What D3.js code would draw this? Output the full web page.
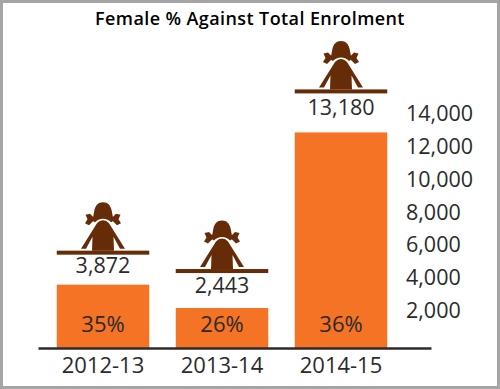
<!DOCTYPE html>
<html><head><meta charset="utf-8">
<script src="https://cdn.jsdelivr.net/npm/d3@7/dist/d3.min.js"></script>
<style>html,body{margin:0;padding:0;background:#fff}svg{display:block}text{font-family:"Open Sans",sans-serif;fill:#2b2b2b}</style>
</head><body><svg id="c" width="500" height="389"></svg>
<script>
const categories = ["2012-13","2013-14","2014-15"];
const enrolment = [3872,2443,13180];
const femalePct = ["35%","26%","36%"];
const tickValues = [2000,4000,6000,8000,10000,12000,14000];
const titleText = "Female % Against Total Enrolment";

const W=500,H=389,base=348;
const svg=d3.select("#c");
const fmt=d3.format(",");
const x=d3.scaleBand().domain(categories).range([38,431]).paddingInner(0.2227).paddingOuter(0.2626).align(0.30);
const y=d3.scaleLinear().domain([0,14000]).range([base,119]);
const lift={"2012-13":32,"2013-14":37,"2014-15":41};
const labelGap={"2012-13":20,"2013-14":22,"2014-15":24};
const orange="#f47325",brown="#652c07";

svg.append("rect").attr("x",1.5).attr("y",1.5).attr("width",W-3).attr("height",H-3).attr("fill","#fff").attr("stroke","#a5a5a5").attr("stroke-width",3);
svg.append("text").attr("x",250).attr("y",25).attr("text-anchor","middle").style("font-size","18px").style("font-weight",600).style("letter-spacing","0.4px").style("fill","#000").text(titleText);

svg.selectAll(".bar").data(categories).join("rect").attr("class","bar")
 .attr("x",d=>x(d)).attr("width",x.bandwidth())
 .attr("y",(d,i)=>y(enrolment[i])).attr("height",(d,i)=>base-y(enrolment[i])).attr("fill",orange);

const xAxis=svg.append("g").attr("transform",`translate(0,${base})`).call(d3.axisBottom(x).tickSize(0).tickPadding(9));
xAxis.select(".domain").attr("stroke","#2b2b2b").attr("stroke-width",2.5);
xAxis.selectAll("text").style("font-size","22px").style("font-family",'"Open Sans",sans-serif');

const yAxis=svg.append("g").attr("transform",`translate(406,-5)`).call(d3.axisRight(y).tickValues(tickValues).tickSize(0).tickPadding(0).tickFormat(fmt));
yAxis.select(".domain").remove();
yAxis.selectAll("text").style("font-size","21.5px").style("font-family",'"Open Sans",sans-serif');

svg.selectAll(".pct").data(categories).join("text").attr("class","pct")
 .attr("x",d=>x(d)+x.bandwidth()/2).attr("y",base-16).attr("text-anchor","middle").style("font-size","22px")
 .text((d,i)=>femalePct[i]);

const hair="M0,-48.5C5,-48.5 7.5,-45 8.5,-41L10.5,-30.5Q9.5,-29 8,-28.5Q5,-32 0,-32Q-5,-32 -8,-28.5Q-9.5,-29 -10.5,-30.5L-8.5,-41C-7.5,-45 -5,-48.5 0,-48.5Z";
const bow="M9,-33L13,-37L17.5,-36L15.5,-31.5L18,-27.5L14,-25.5L10,-29.5Z";
const body="M0,-30.5Q3.5,-30.5 6,-27.5L22,-2L17,-2L10.5,-14L11,0L-11,0L-10.5,-14L-17,-2L-22,-2L-6,-27.5Q-3.5,-30.5 0,-30.5Z";
const g=svg.selectAll(".girl").data(categories).join("g").attr("class","girl")
 .attr("transform",(d,i)=>`translate(0,${y(enrolment[i])-lift[d]})`);
g.append("rect").attr("x",d=>x(d)).attr("width",x.bandwidth()).attr("y",-2).attr("height",4).attr("fill",brown);
const ic=g.append("g").attr("transform",d=>`translate(${x(d)+x.bandwidth()/2},-2)`).attr("fill",brown);
ic.append("path").attr("d",hair);
ic.append("path").attr("d",bow);
ic.append("path").attr("d",bow).attr("transform","scale(-1,1)");
ic.append("path").attr("d",body);
g.append("text").attr("x",d=>x(d)+x.bandwidth()/2).attr("y",d=>labelGap[d]).attr("text-anchor","middle").style("font-size","21.5px")
 .text((d,i)=>fmt(enrolment[i]));
</script></body></html>
